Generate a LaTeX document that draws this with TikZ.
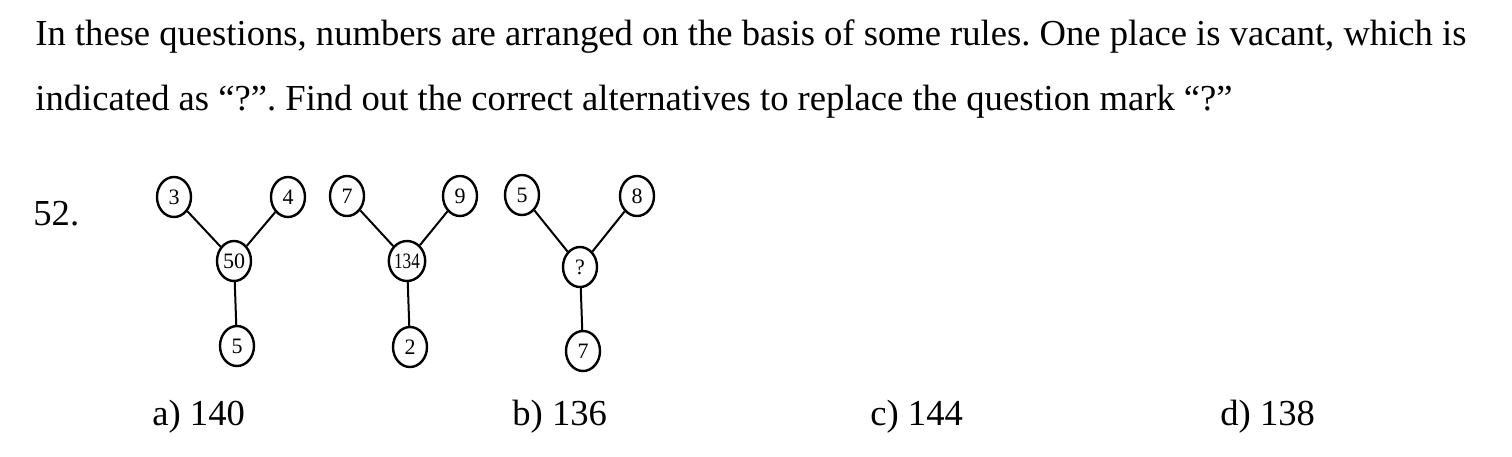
\documentclass[tikz,border=0pt]{standalone}
\usepackage{fontspec}
\setmainfont{Liberation Serif}
\usepackage{graphicx}
\usepackage{tikz}
\usetikzlibrary{positioning,shapes}
\frenchspacing
\tikzstyle{txt}=[
	anchor=base west,
	inner sep=0,
	font=\fontsize{18.3}{21}\selectfont]
\tikzstyle{num}=[
	draw=black,
	ellipse,
	line width=1.2pt,
	inner sep=0,
	minimum width=17pt,
	minimum height=20pt,
	font=\fontsize{11}{12}\selectfont]
\tikzstyle{edge}=[
	draw=black,
	line width=1pt]

\begin{document}
\begin{tikzpicture}[x=0.5pt,y=-0.5pt]
	\useasboundingbox (0,0) rectangle (1512,456);
	\node[txt]	(lineA)	at (35,45)	{In these questions, numbers are arranged on the basis of some rules. One place is vacant, which is};
	\node[txt]	(lineB)	at (35,110)	{indicated as “?”. Find out the correct alternatives to replace the question mark “?”};
	\node[txt]	(qno)	at (33,225)	{52.};
	\begin{scope}
		\node[num]	(ctrA)	at (234,261)	{50};
		\node[num]	(tlA)	at (174,197)	{3};
		\node[num]	(trA)	at (288,197)	{4};
		\node[num]	(btA)	at (237,346)	{5};
		\draw[edge] (tlA) -- (ctrA);
		\draw[edge] (trA) -- (ctrA);
		\draw[edge] (ctrA) -- (btA);
	\end{scope}
	\begin{scope}
		\node[num]	(ctrB)	at (407,261)	{\scalebox{0.78}[1]{134}};
		\node[num]	(tlB)	at (347,196)	{7};
		\node[num]	(trB)	at (460,196)	{9};
		\node[num]	(btB)	at (410,347)	{2};
		\draw[edge] (tlB) -- (ctrB);
		\draw[edge] (trB) -- (ctrB);
		\draw[edge] (ctrB) -- (btB);
	\end{scope}
	\begin{scope}
		\node[num]	(ctrC)	at (580,267)	{?};
		\node[num]	(tlC)	at (522,195)	{5};
		\node[num]	(trC)	at (637,196)	{8};
		\node[num]	(btC)	at (583,351)	{7};
		\draw[edge] (tlC) -- (ctrC);
		\draw[edge] (trC) -- (ctrC);
		\draw[edge] (ctrC) -- (btC);
	\end{scope}
	\node[txt]	(optA)	at (152,425)	{a) 140};
	\node[txt]	(optB)	at (512,425)	{b) 136};
	\node[txt]	(optC)	at (870,425)	{c) 144};
	\node[txt]	(optD)	at (1220,425)	{d) 138};
\end{tikzpicture}
\end{document}
